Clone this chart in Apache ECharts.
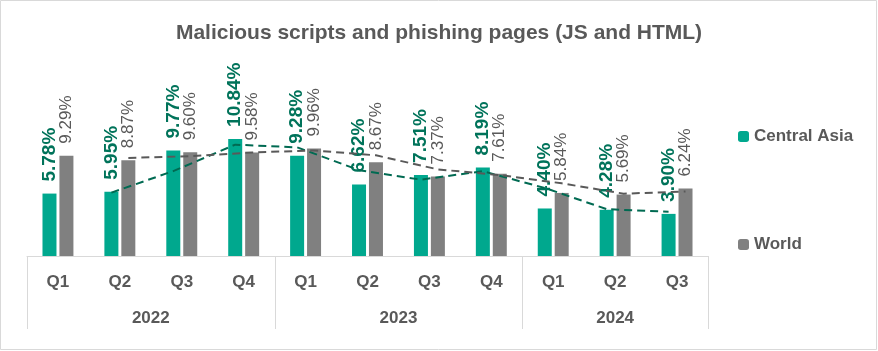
<!DOCTYPE html>
<html>
<head>
<meta charset="utf-8">
<script src="https://cdn.jsdelivr.net/npm/echarts@6/dist/echarts.min.js"></script>
<style>
    html, body { margin: 0; padding: 0; background: #fff; }
    #main { width: 878px; height: 351px; }
</style>
</head>
<body>
<div id="main"></div>
<script>
    var quarters = ['Q1', 'Q2', 'Q3', 'Q4', 'Q1', 'Q2', 'Q3', 'Q4', 'Q1', 'Q2', 'Q3'];
    var years = ['2022', '2023', '2024'];
    var quartersPerYear = [4, 4, 3];
    var centralAsia = [5.78, 5.95, 9.77, 10.84, 9.28, 6.62, 7.51, 8.19, 4.40, 4.28, 3.90];
    var world = [9.29, 8.87, 9.60, 9.58, 9.96, 8.67, 7.37, 7.61, 5.84, 5.69, 6.24];
    // trend lines (2-period moving average), start at the 2nd quarter
    var centralAsiaTrend = [5.87, 7.86, 10.31, 10.06, 7.95, 7.07, 7.85, 6.30, 4.34, 4.09];
    var worldTrend = [9.08, 9.24, 9.59, 9.77, 9.32, 8.02, 7.49, 6.73, 5.77, 5.97];

    var FONT = 'Liberation Sans';
    var barOffset = 0.137; // bar centre offset from category centre, in categories

    function trendData(arr, shift) {
        return arr.map(function (v, i) { return [i + 1 + shift, v]; });
    }

    var myChart = echarts.init(document.getElementById('main'));

    var option = {
        animation: false,
        title: {
            text: 'Malicious scripts and phishing pages (JS and HTML)',
            left: 'center',
            top: 18,
            textStyle: { fontFamily: FONT, fontSize: 21, fontWeight: 'bold', color: '#595959' }
        },
        legend: {
            orient: 'vertical',
            left: 733,
            top: 123,
            itemWidth: 11,
            itemHeight: 11,
            itemGap: 91,
            data: ['Central Asia', 'World'],
            textStyle: { fontFamily: FONT, fontSize: 17, fontWeight: 'bold', color: '#595959' }
        },
        grid: { left: 27, right: 170, top: 40, bottom: 95 },
        xAxis: [
            {
                type: 'category',
                data: quarters,
                axisLine: { lineStyle: { color: '#d9d9d9', width: 1 } },
                axisTick: { show: false },
                axisLabel: { margin: 18, fontFamily: FONT, fontSize: 17, fontWeight: 'bold', color: '#595959' }
            },
            { type: 'value', min: -0.5, max: 10.5, show: false }
        ],
        yAxis: { type: 'value', min: 0, max: 20, show: false },
        series: [
            {
                name: 'Central Asia',
                type: 'bar',
                barWidth: 14,
                barGap: '21%',
                itemStyle: { color: '#00a88e' },
                label: {
                    show: true, position: 'top', rotate: 90, align: 'left', verticalAlign: 'middle',
                    distance: 12, fontFamily: FONT, fontSize: 19, fontWeight: 'bold', color: '#00735a',
                    formatter: function (p) { return p.value.toFixed(2) + '%'; }
                },
                data: centralAsia
            },
            {
                name: 'World',
                type: 'bar',
                barWidth: 14,
                itemStyle: { color: '#808080' },
                label: {
                    show: true, position: 'top', rotate: 90, align: 'left', verticalAlign: 'middle',
                    distance: 12, fontFamily: FONT, fontSize: 17, color: '#595959',
                    formatter: function (p) { return p.value.toFixed(2) + '%'; }
                },
                data: world
            },
            {
                name: 'CA trend',
                type: 'line',
                xAxisIndex: 1,
                symbol: 'none',
                lineStyle: { color: '#006a52', width: 2, type: [8, 5] },
                data: trendData(centralAsiaTrend, -barOffset)
            },
            {
                name: 'World trend',
                type: 'line',
                xAxisIndex: 1,
                symbol: 'none',
                lineStyle: { color: '#595959', width: 2, type: [8, 5] },
                data: trendData(worldTrend, barOffset)
            }
        ]
    };

    myChart.setOption(option);

    // year labels, group separators and outer border
    var graphics = [{
        type: 'rect', shape: { x: 0.5, y: 0.5, width: 876, height: 349 },
        style: { fill: 'none', stroke: '#d9d9d9', lineWidth: 1 }, silent: true
    }];
    var half = (myChart.convertToPixel({ xAxisIndex: 0 }, 1) - myChart.convertToPixel({ xAxisIndex: 0 }, 0)) / 2;
    var axisY = myChart.convertToPixel({ yAxisIndex: 0 }, 0);
    var start = 0;
    years.forEach(function (y, k) {
        var first = myChart.convertToPixel({ xAxisIndex: 0 }, start);
        var last = myChart.convertToPixel({ xAxisIndex: 0 }, start + quartersPerYear[k] - 1);
        graphics.push({
            type: 'text', x: (first + last) / 2, y: 318,
            style: {
                text: y, align: 'center', verticalAlign: 'middle',
                font: 'bold 17px "' + FONT + '"', fill: '#595959'
            }
        });
        [first - half, last + half].forEach(function (x) {
            graphics.push({
                type: 'line', silent: true,
                shape: { x1: Math.round(x) + 0.5, y1: axisY, x2: Math.round(x) + 0.5, y2: axisY + 73 },
                style: { stroke: '#d9d9d9', lineWidth: 1 }
            });
        });
        start += quartersPerYear[k];
    });
    myChart.setOption({ graphic: graphics });
</script>
</body>
</html>
